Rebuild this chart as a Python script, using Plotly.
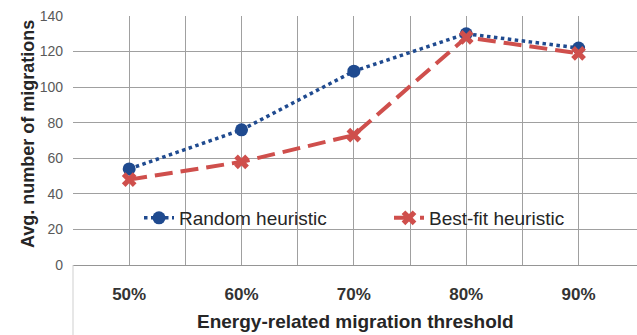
import plotly.graph_objects as go

categories = ["50%", "60%", "70%", "80%", "90%"]
random_heuristic = [54, 76, 109, 130, 122]
bestfit_heuristic = [48, 58, 73, 128, 119]
y_ticks = [0, 20, 40, 60, 80, 100, 120, 140]

x_idx = list(range(len(categories)))
tickvals, ticktext = [], []
for i, c in enumerate(categories):
    tickvals += [i - 0.5, i]
    ticktext += ["", c]

BLUE = "#1f4a8f"
RED = "#cf4f4c"
GRID = "#a0a0a0"
FONT = "Liberation Sans, Arial, sans-serif"

fig = go.Figure()
fig.add_trace(go.Scatter(
    x=x_idx, y=random_heuristic, name="Random heuristic", mode="lines+markers",
    line=dict(color=BLUE, width=3.5, dash="3.5px,3.5px"),
    marker=dict(symbol="circle", size=13, color=BLUE),
    legend="legend",
))
fig.add_trace(go.Scatter(
    x=x_idx, y=bestfit_heuristic, name="Best-fit heuristic", mode="lines+markers",
    line=dict(color=RED, width=4, dash="18px,8px"),
    marker=dict(symbol="x", size=13, color=RED, line=dict(width=0)),
    legend="legend2",
))

leg_common = dict(
    orientation="h", xanchor="left", y=0.189, yanchor="middle",
    bgcolor="rgba(0,0,0,0)", font=dict(size=19, color="#262626", family=FONT),
    itemwidth=30,
)

fig.update_layout(
    width=637, height=335,
    margin=dict(l=73, r=0, t=16, b=70),
    paper_bgcolor="white", plot_bgcolor="white",
    font=dict(family=FONT, color="#333333"),
    showlegend=True,
    legend=dict(x=(139 - 73) / 564, **leg_common),
    legend2=dict(x=(389 - 73) / 564, **leg_common),
    xaxis=dict(
        range=[-0.5, 4.52], tickvals=tickvals, ticktext=ticktext,
        showgrid=True, gridcolor=GRID, gridwidth=1, zeroline=False,
        showline=True, linecolor="#959595", linewidth=1, ticks="",
        tickfont=dict(size=17, family=FONT, color="#333333", weight="bold"),
        ticklabelstandoff=14,
    ),
    yaxis=dict(
        range=[0, 140], tickvals=y_ticks, showgrid=True, gridcolor=GRID,
        gridwidth=1, zeroline=False, showline=False, ticks="",
        tickfont=dict(size=14, family=FONT, color="#595959"),
        ticklabelstandoff=9,
    ),
    shapes=[
        dict(type="rect", xref="paper", yref="paper", x0=0.0177, x1=0.979,
             y0=0.1285, y1=0.249, fillcolor="white", line=dict(width=0), layer="between"),
        dict(type="line", xref="paper", yref="paper", x0=0, x1=0, y0=0, y1=-0.281,
             line=dict(color="#cfcfcf", width=1)),
    ],
    annotations=[
        dict(text="Energy-related migration threshold", xref="paper", yref="paper",
             x=(355 - 73) / 564, y=-(321 - 265) / 249, xanchor="center", yanchor="middle",
             showarrow=False, font=dict(size=19, family=FONT, color="#262626", weight="bold")),
        dict(text="Avg. number of migrations", xref="paper", yref="paper",
             x=-(73 - 28) / 564, y=(265 - 134) / 249, xanchor="center", yanchor="middle",
             textangle=-90, showarrow=False,
             font=dict(size=18, family=FONT, color="#262626", weight="bold")),
    ],
)

fig.write_html("out.html")
